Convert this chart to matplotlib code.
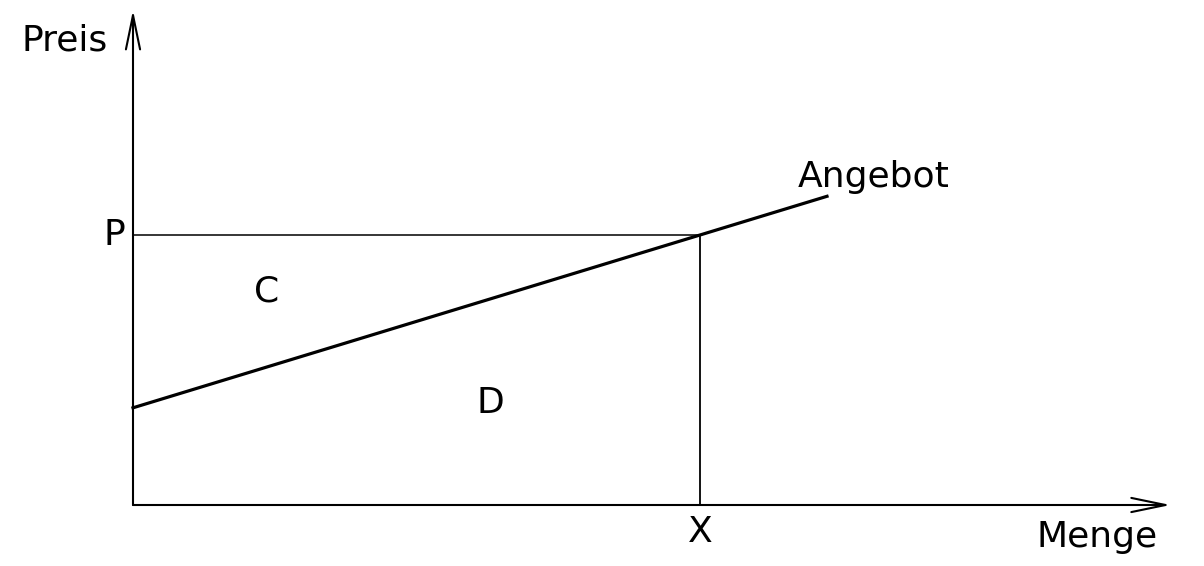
import matplotlib
matplotlib.use("Agg")
import matplotlib.pyplot as plt

# model values (arbitrary units)
price_p = 10.0          # price level P
quantity_x = 10.0       # quantity X
supply_intercept = 3.6  # supply curve at quantity 0
supply_end = 12.24      # where the drawn supply line stops
axis_len_x = 18.3
axis_len_y = 18.33

axis_labels = ["Menge", "Preis"]
area_labels = ["C", "D"]
curve_label = "Angebot"

slope = (price_p - supply_intercept) / quantity_x

fig = plt.figure(figsize=(12.04, 5.66), dpi=100)
ax = fig.add_axes([133 / 1204, 61 / 566, 1071 / 1204, 505 / 566])
ax.set_xlim(0, 1071 / 56.7)
ax.set_ylim(0, 505 / 27)
ax.axis("off")

# axes with long, narrow open arrow heads
arrow = dict(arrowstyle="->,head_length=0.82,head_width=0.17", lw=1.5,
             color="black", mutation_scale=30, shrinkA=0, shrinkB=0)
ax.annotate("", xy=(axis_len_x, 0), xytext=(0, 0), arrowprops=arrow, annotation_clip=False)
ax.annotate("", xy=(0, axis_len_y), xytext=(0, 0), arrowprops=arrow, annotation_clip=False)

# P line and X line
ax.plot([0, quantity_x], [price_p, price_p], color="black", lw=1.1, clip_on=False)
ax.plot([quantity_x, quantity_x], [0, price_p], color="black", lw=1.3, clip_on=False)

# supply curve
ax.plot([0, supply_end], [supply_intercept, supply_intercept + slope * supply_end],
        color="black", lw=2.3, clip_on=False)

fs = 26
ax.text(-0.45, 17.2, axis_labels[1], fontsize=fs, ha="right", va="center", clip_on=False)
ax.text(15.94, -1.19, axis_labels[0], fontsize=fs, ha="left", va="center", clip_on=False)
ax.text(-0.32, price_p, "P", fontsize=fs, ha="center", va="center", clip_on=False)
ax.text(quantity_x, -1.0, "X", fontsize=fs, ha="center", va="center", clip_on=False)
ax.text(2.36, 7.9, area_labels[0], fontsize=fs, ha="center", va="center")
ax.text(6.31, 3.78, area_labels[1], fontsize=fs, ha="center", va="center")
ax.text(11.73, 12.15, curve_label, fontsize=fs, ha="left", va="center")

fig.savefig("out.png", dpi=100)
